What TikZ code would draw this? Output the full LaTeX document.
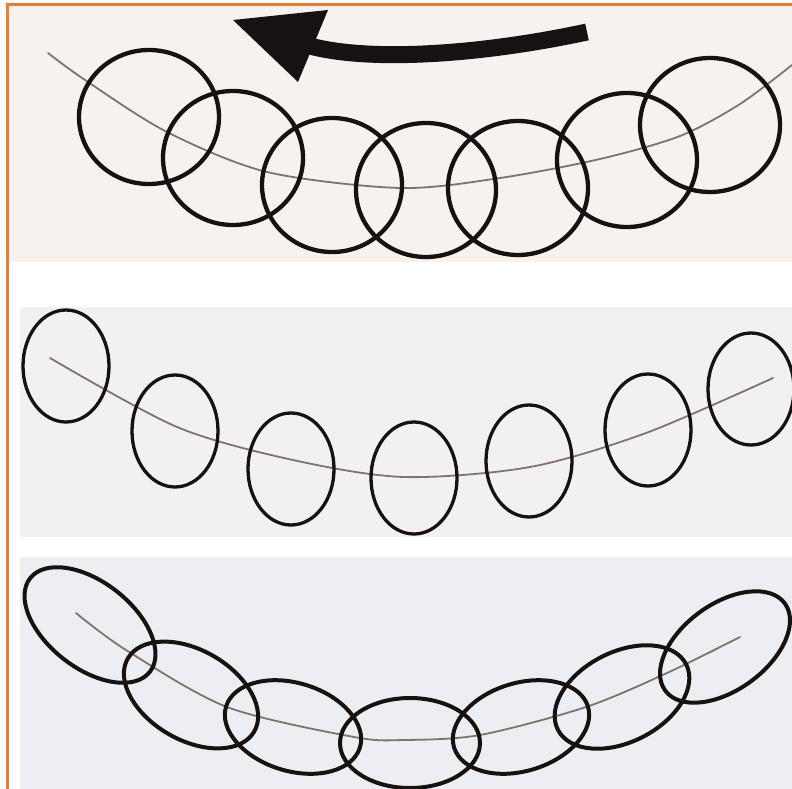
\documentclass[tikz,border=0pt]{standalone}
\usetikzlibrary{arrows.meta}
\definecolor{frameorange}{RGB}{240,122,50}
\definecolor{panelA}{RGB}{245,242,240}
\definecolor{panelB}{RGB}{243,241,240}
\definecolor{panelC}{RGB}{237,238,241}
\definecolor{threadgray}{RGB}{125,116,113}
\definecolor{inkblack}{RGB}{22,18,18}

\begin{document}
\begin{tikzpicture}[x=1pt,y=-1pt,
  ring/.style={draw=inkblack,line width=#1},
  ring/.default=4.3pt,
  thread/.style={draw=threadgray,line width=1.8pt,line cap=round}]
\useasboundingbox (0,0) rectangle (792,789);
\fill[white] (0,0) rectangle (792,789);
\fill[panelA] (8,6) rectangle (792,262);
\fill[panelB] (20,307) rectangle (792,537);
\fill[panelC] (20,557) rectangle (792,789);

\draw[thread] plot[smooth] coordinates {(48,53) (85,80) (167,132) (267,172) (400,188) (500,178) (600,159) (680,136) (740,104) (792,65)};
\foreach \cx/\cy in {149/117, 233/158, 332/185, 426/190, 518/188, 627/160, 710/125}
  \draw[ring] (\cx,\cy) ellipse [x radius=70, y radius=67];
\coordinate (tip) at (233,20);
\fill[inkblack] (tip) -- (328,10) -- (298,82) -- cycle;
\draw[inkblack,line width=17pt] (587,32) .. controls (480,55) and (370,62) .. (310,46);

\draw[thread] plot[smooth] coordinates {(50,358) (177,427) (293,460) (404,477) (530,467) (646,433) (773,378)};
\foreach \cx/\cy in {66/366, 175/431, 291/469, 414/478, 529/461, 648/430, 751/389}
  \draw[ring=3.3pt] (\cx,\cy) ellipse [x radius=43, y radius=56];

\draw[thread] plot[smooth] coordinates {(76,613) (126,650) (227,707) (354,737) (404,740) (480,735) (586,707) (667,673) (740,637)};
\foreach \cx/\cy/\ang/\ra/\rb in {90/625/-38/76/43, 191/695/-30/73/45, 293/727/-17/70/44, 410/743/0/70/45, 521/727/17/70/44, 622/697/27/72/45, 725/647/36/74/43}
  \draw[ring=4pt,rotate around={\ang:(\cx,\cy)}] (\cx,\cy) ellipse [x radius=\ra, y radius=\rb];

\draw[frameorange,line width=3pt] (7,789) -- (7,5) -- (792,5);
\end{tikzpicture}
\end{document}
